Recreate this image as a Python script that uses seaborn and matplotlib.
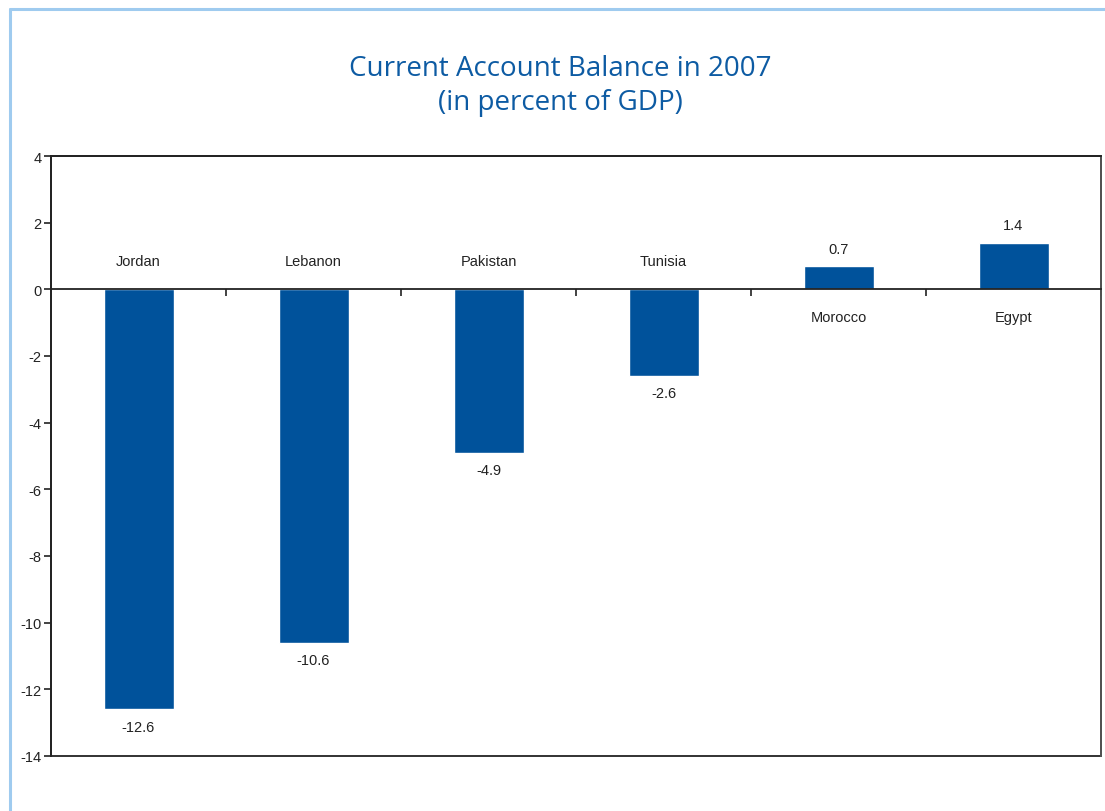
import matplotlib
matplotlib.use("Agg")
import matplotlib.pyplot as plt
from matplotlib.lines import Line2D
from matplotlib.patches import Rectangle
import seaborn as sns

countries = ["Jordan", "Lebanon", "Pakistan", "Tunisia", "Morocco", "Egypt"]
balance = [-12.6, -10.6, -4.9, -2.6, 0.7, 1.4]
y_ticks = [4, 2, 0, -2, -4, -6, -8, -10, -12, -14]

BAR = "#00529B"
TITLE = "#0D5BA3"
FRAME = "#9FCBEF"
INK = "#222222"

sns.set_theme(style="white")
plt.rcParams["font.family"] = ["Liberation Sans", "DejaVu Sans"]

fig = plt.figure(figsize=(11.05, 8.12), dpi=100)
W, H = 1105, 812

# light blue panel border (left and top edges)
fig.add_artist(Line2D([10 / W, 10 / W], [0, 1 - 10 / H], transform=fig.transFigure,
                      color=FRAME, lw=2.2))
fig.add_artist(Line2D([10 / W, 1], [1 - 10 / H, 1 - 10 / H], transform=fig.transFigure,
                      color=FRAME, lw=2.2))

fig.text(560 / W, 1 - 69 / H, "Current Account Balance in 2007", ha="center", va="center",
         color=TITLE, fontsize=20, family=["Open Sans", "DejaVu Sans"])
fig.text(560 / W, 1 - 103 / H, "(in percent of GDP)", ha="center", va="center",
         color=TITLE, fontsize=20, family=["Open Sans", "DejaVu Sans"])

ax = fig.add_axes([51 / W, 1 - 757 / H, 1050 / W, 600 / H])
sns.barplot(x=countries, y=balance, color=BAR, saturation=1, width=0.4, ax=ax)

ax.set_xlim(-0.5, len(countries) - 0.5)
ax.set_ylim(min(y_ticks), max(y_ticks))
ax.set_yticks(y_ticks)
ax.set_yticklabels([str(t) for t in y_ticks])
ax.set_xlabel("")
ax.set_ylabel("")

# x axis runs along zero, with tick marks between categories
ax.spines["bottom"].set_position(("data", 0))
ax.set_xticks([i + 0.5 for i in range(len(countries))])
ax.set_xticklabels([])
ax.tick_params(axis="x", direction="out", length=5, width=1.2, color=INK, bottom=True)
ax.tick_params(axis="y", direction="out", length=5, width=1.2, color=INK, left=True,
               labelsize=10.5, labelcolor=INK, pad=2)
for s in ax.spines.values():
    s.set_color(INK)
    s.set_linewidth(1.3)
ax.spines["right"].set_color("#555555")

# closing frame line along the bottom of the plot area
ax.add_patch(Rectangle((0, 0), 1, 1, transform=ax.transAxes, fill=False,
                       edgecolor=INK, lw=1.3, clip_on=False))

for i, (name, v) in enumerate(zip(countries, balance)):
    if v < 0:
        ax.annotate(name, (i, 0), xytext=(0, 20.5), textcoords="offset points",
                    ha="center", va="center", fontsize=10.5, color=INK)
        ax.annotate(f"{v:.1f}", (i, v), xytext=(0, -12.5), textcoords="offset points",
                    ha="center", va="center", fontsize=10.5, color=INK)
    else:
        ax.annotate(name, (i, 0), xytext=(0, -20), textcoords="offset points",
                    ha="center", va="center", fontsize=10.5, color=INK)
        ax.annotate(f"{v:.1f}", (i, v), xytext=(0, 12.5), textcoords="offset points",
                    ha="center", va="center", fontsize=10.5, color=INK)

fig.savefig("out.png", dpi=100)
